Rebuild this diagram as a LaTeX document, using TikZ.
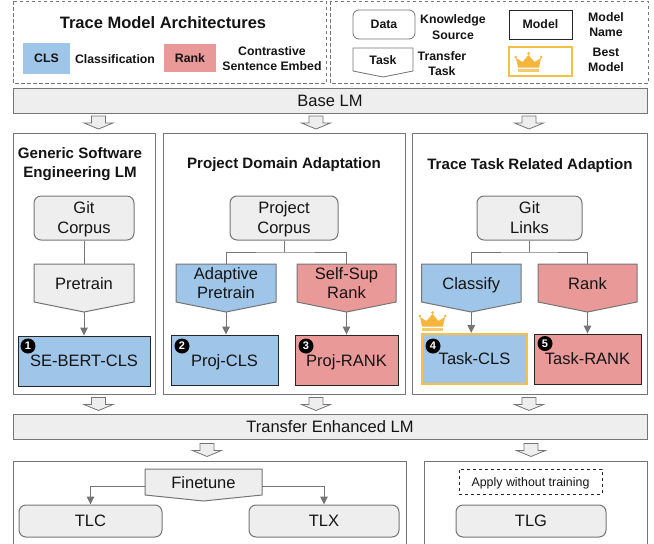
\documentclass[tikz,border=0pt]{standalone}
\usepackage{fontspec}
\setmainfont{Liberation Sans}
\usetikzlibrary{arrows.meta,calc}
\definecolor{bluef}{HTML}{9FC5E8}
\definecolor{redf}{HTML}{EA9999}
\definecolor{grayf}{HTML}{EEEEEE}
\definecolor{lineg}{HTML}{757575}
\definecolor{gold}{HTML}{F6C142}
\definecolor{crown}{HTML}{F6B63C}
\newcommand{\nd}[1]{\raisebox{0pt}[.73em][0pt]{#1}}
\newcommand{\tbox}[8]{% name,x1,y1,x2,y2,tip,style,text
  \path[#7] (#2,#3) -- (#4,#3) -- (#4,#5) -- ({(#2+#4)/2},#6) -- (#2,#5) -- cycle;
  \node[txt,align=center,font=\fontsize{16.5}{19.5}\selectfont] (#1) at ({(#2+#4)/2},{(#3+#5)/2}) {#8};
  \coordinate (#1-top) at ({(#2+#4)/2},#3);
  \coordinate (#1-tip) at ({(#2+#4)/2},#6);
}
\newcommand{\bigarrow}[3]{% name,x,y
  \path[bigarr] (#2-7,#3) -- (#2+7,#3) -- (#2+7,#3+7) -- (#2+14.5,#3+7) -- (#2,#3+13) -- (#2-14.5,#3+7) -- (#2-7,#3+7) -- cycle;
  \coordinate (#1) at (#2,#3);
}
\newcommand{\crownicon}[1]{%
  \begin{scope}[shift={#1}]
    \fill[crown!75!white] (-10.5,6.5) rectangle (10.5,10);
    \fill[crown] (-10.5,5.5) -- (10.5,5.5) -- (12.5,-4) -- (6,0) -- (0,-7) -- (-6,0) -- (-12.5,-4) -- cycle;
    \fill[crown] (0,-8.5) circle (1.5);
    \fill[crown] (-12.8,-5) circle (1.4);
    \fill[crown] (12.8,-5) circle (1.4);
  \end{scope}
}
\tikzset{
  x=1pt,y=-1pt,
  txt/.style={inner sep=0pt,text=black!92},
  panel/.style={draw=lineg,line width=.9pt,fill=white},
  bar/.style={draw=lineg,line width=1pt,fill=grayf},
  gtask/.style={draw=lineg,line width=1pt,fill=grayf},
  btask/.style={draw=lineg,line width=1pt,fill=bluef},
  rtask/.style={draw=lineg,line width=1pt,fill=redf},
  wtask/.style={draw=lineg,line width=.8pt,fill=white},
  bigarr/.style={draw=lineg,line width=.8pt,fill=grayf},
  conn/.style={draw=lineg,line width=1pt},
  arr/.style={draw=lineg,line width=1pt,-{Triangle[length=8pt,width=7.5pt]}},
  model/.style={draw=black!85,line width=.9pt,inner sep=0pt,txt,font=\fontsize{16.5}{19}\selectfont,minimum height=50pt},
  num/.style={circle,fill=black,text=white,inner sep=0pt,minimum size=15pt,font=\bfseries\fontsize{11}{11}\selectfont},
  rbox/.style={draw=lineg,line width=1pt,rounded corners=7pt,fill=grayf,inner sep=0pt,txt,align=center,font=\fontsize{16.5}{20}\selectfont},
  leg/.style={inner sep=0pt,align=center,font=\bfseries\fontsize{12.3}{15}\selectfont,text=black!92},
  lm/.style={txt,font=\fontsize{16.5}{19}\selectfont},
  head/.style={inner sep=0pt,align=center,font=\bfseries\fontsize{15.1}{19}\selectfont,text=black!92},
  legframe/.style={draw=lineg,line width=.9pt,dash pattern=on 3.5pt off 2.5pt}
}
\begin{document}
\begin{tikzpicture}
\useasboundingbox (0,0) rectangle (654,544);
% legend frames
\path[legframe] (13,1) rectangle (326,83);
\path[legframe] (330,1) rectangle (648,83);
\node[inner sep=0pt,font=\bfseries\fontsize{16.5}{19}\selectfont,text=black!92] (title) at (163,23) {Trace Model Architectures};
\node[leg,fill=bluef,minimum width=47pt,minimum height=31pt] (cls) at (46.5,58.5) {CLS};
\node[leg] (clsT) at (115,59) {Classification};
\node[leg,fill=redf,minimum width=52pt,minimum height=28.5pt] (rank) at (190,58) {Rank};
\node[leg] (rankT) at (272,58.5) {Contrastive\\Sentence Embed};
\node[leg,draw=lineg,line width=.8pt,rounded corners=6pt,minimum width=62pt,minimum height=29pt] (data) at (384,24.5) {Data};
\node[leg,font=\bfseries\fontsize{12.3}{16}\selectfont] (dataT) at (453,27) {Knowledge\\Source};
\path[wtask] (353,48) -- (413,48) -- (413,71) -- (383,77) -- (353,71) -- cycle;
\node[leg] (task) at (383,60) {Task};
\node[leg] (taskT) at (442,64) {Transfer\\Task};
\node[leg,draw=black!85,line width=.9pt,minimum width=63pt,minimum height=29pt] (modelL) at (540.5,24.5) {Model};
\node[leg] (modelT) at (606,25) {Model\\Name};
\node[draw=gold,line width=2pt,minimum width=63pt,minimum height=29pt,inner sep=0pt] (best) at (540.5,61.5) {};
\crownicon{(528.5,62)}
\node[leg] (bestT) at (606,60) {Best\\Model};
% Base LM
\node[bar,minimum width=634pt,minimum height=25pt,inner sep=0pt,lm] (base) at (330,100.5) {Base LM};
\bigarrow{a1}{98.5}{116}
\bigarrow{a2}{316}{116}
\bigarrow{a3}{529}{116}
% Panels
\path[panel] (13,133) rectangle (155.5,394);
\path[panel] (163,133) rectangle (405,394);
\path[panel] (412,133) rectangle (647,394);
\node[head] (h1) at (80,164.5) {Generic Software\\Engineering LM};
\node[head] (h2) at (284,163) {\nd{Project Domain Adaptation}};
\node[head] (h3) at (530,163.5) {\nd{Trace Task Related Adaption}};
% Panel 1
\node[rbox,minimum width=100pt,minimum height=44pt] (d1) at (84,218) {Git\\\nd{Corpus}};
\tbox{t1}{34}{264}{134}{302}{312}{gtask}{\nd{Pretrain}}
\draw[conn] (d1) -- (t1-top);
\node[model,fill=bluef,minimum width=132pt] (m1) at (84,361) {SE-BERT-CLS};
\draw[arr] (t1-tip) -- (m1);
\node[num] (n1) at (28,346) {1};
% Panel 2
\node[rbox,minimum width=108pt,minimum height=44pt] (d2) at (284,218) {Project\\\nd{Corpus}};
\tbox{t2}{176}{264}{276}{302}{312}{btask}{Adaptive\\Pretrain}
\tbox{t3}{297}{264}{396}{302}{312}{rtask}{Self-Sup\\Rank}
\coordinate (j2) at (284,252);
\draw[conn] (d2.south) -- (j2);
\draw[conn] (t2-top) |- (j2) -| (t3-top);
\node[model,fill=bluef,minimum width=107pt] (m2) at (224.5,360) {\nd{Proj-CLS}};
\node[model,fill=redf,minimum width=103pt] (m3) at (346.5,360) {\nd{Proj-RANK}};
\draw[arr] (t2-tip) -- (t2-tip |- m2.north);
\draw[arr] (t3-tip) -- (t3-tip |- m3.north);
\node[num] (n2) at (182,346) {2};
\node[num] (n3) at (306,346) {3};
% Panel 3
\node[rbox,minimum width=105pt,minimum height=44pt] (d3) at (529.5,218) {Git\\Links};
\tbox{t4}{421.5}{264}{521}{302}{312}{btask}{\nd{Classify}}
\tbox{t5}{538}{264}{637}{302}{312}{rtask}{\nd{Rank}}
\coordinate (j3) at (529.5,252);
\draw[conn] (d3.south) -- (j3);
\draw[conn] (t4-top) |- (j3) -| (t5-top);
\node[model,fill=bluef,draw=gold,line width=2pt,minimum width=105pt] (m4) at (474.5,359) {Task-CLS};
\node[model,fill=redf,minimum width=107pt] (m5) at (587.5,359) {Task-RANK};
\draw[arr] (t4-tip) -- (t4-tip |- m4.north);
\draw[arr] (t5-tip) -- (t5-tip |- m5.north);
\node[num] (n4) at (433,346) {4};
\node[num] (n5) at (545,343.5) {5};
\crownicon{(432.5,321)}
% lower arrows
\bigarrow{a4}{98.5}{397.5}
\bigarrow{a5}{316}{397.5}
\bigarrow{a6}{529}{397.5}
\node[bar,minimum width=634pt,minimum height=25pt,inner sep=0pt,lm] (tel) at (330,426.5) {Transfer Enhanced LM};
\bigarrow{a7}{207}{443.5}
\bigarrow{a8}{531}{443.5}
% Bottom panels
\draw[draw=lineg,line width=.9pt] (13,545) -- (13,461) -- (406,461) -- (406,545);
\draw[draw=lineg,line width=.9pt] (424,545) -- (424,461) -- (647.5,461) -- (647.5,545);
\tbox{fin}{145}{469}{262}{495}{501}{gtask}{\nd{Finetune}}
\node[rbox,minimum width=143pt,minimum height=32pt] (tlc) at (90.5,521) {TLC};
\node[rbox,minimum width=150pt,minimum height=32pt] (tlx) at (324,521) {TLX};
\coordinate (finl) at (145,486);
\coordinate (finr) at (262,486);
\draw[arr] (finl) -| (tlc.north);
\draw[arr] (finr) -| (tlx.north);
\node[draw=black!85,dashed,line width=.9pt,minimum width=143pt,minimum height=25pt,inner sep=0pt,font=\fontsize{12.4}{15}\selectfont,text=black!92] (apply) at (530.5,481.5) {\nd{Apply without training}};
\node[rbox,minimum width=150pt,minimum height=32pt] (tlg) at (531,521) {TLG};
\end{tikzpicture}
\end{document}
